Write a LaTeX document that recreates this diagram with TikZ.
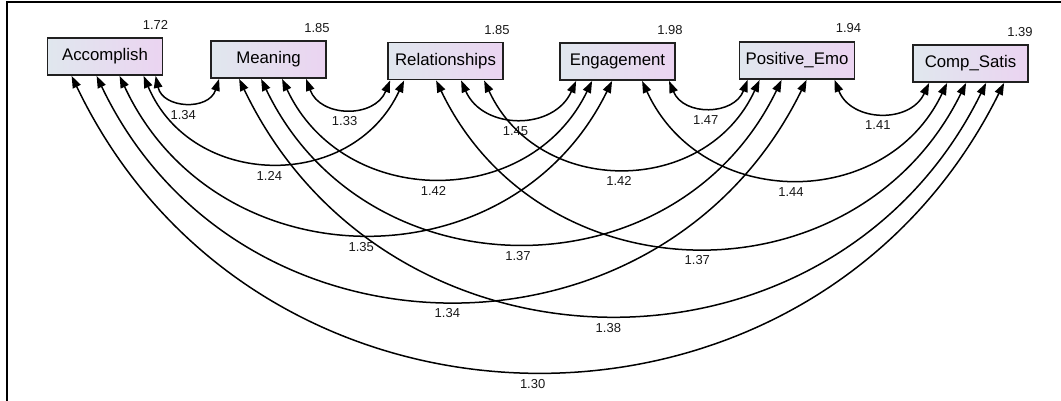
\documentclass[tikz,border=0pt]{standalone}
\usepackage{fontspec}
\setmainfont{Liberation Sans}
\usetikzlibrary{arrows.meta,calc}
\definecolor{boxL}{HTML}{E0E7EE}
\definecolor{boxR}{HTML}{EBD4F1}
\definecolor{boxB}{HTML}{202020}
\tikzset{
  var/.style={rectangle, draw=boxB, line width=1.8pt, left color=boxL, right color=boxR,
    minimum width=115pt, minimum height=37pt, inner sep=0pt,
    font=\fontsize{16.8}{18}\selectfont, text=black},
  vlab/.style={anchor=south east, inner sep=0pt, font=\fontsize{13}{14}\selectfont, text=black!90},
  cov/.style={line width=1.5pt, {Triangle[length=12pt,width=8.5pt]}-{Triangle[length=12pt,width=8.5pt]}},
  clab/.style={font=\fontsize{13}{14}\selectfont, text=black!90, inner sep=0pt, anchor=north,
    yshift=-7.5pt, xshift=-3pt},
}
\begin{document}
\begin{tikzpicture}[x=1pt,y=-1pt]
\useasboundingbox (0,0) rectangle (1061,401);
\draw[line width=2pt] (6.5,401) -- (6.5,2.5) -- (1061,2.5);

\node[var] (acc)  at (105,56.5)   {Accomplish};
\node[var] (mea)  at (268.5,59.5) {Meaning};
\node[var] (rel)  at (445.5,61)   {Relationships};
\node[var] (eng)  at (617.5,61.5) {Engagement};
\node[var] (pos)  at (797,60.5)   {Positive\_Emo};
\node[var] (comp) at (970.5,63.5) {Comp\_Satis};

\node[vlab] (vacc)  at ([xshift=5pt,yshift=7pt]acc.north east)  {1.72};
\node[vlab] (vmea)  at ([xshift=3pt,yshift=7pt]mea.north east)  {1.85};
\node[vlab] (vrel)  at ([xshift=6pt,yshift=7pt]rel.north east)  {1.85};
\node[vlab] (veng)  at ([xshift=7pt,yshift=7pt]eng.north east)  {1.98};
\node[vlab] (vpos)  at ([xshift=6pt,yshift=8pt]pos.north east)  {1.94};
\node[vlab] (vcomp) at ([xshift=4pt,yshift=7pt]comp.north east) {1.39};

% covariances
\draw[cov] ([xshift=109pt]acc.south west) to[bend right=75, looseness=1.353] node[clab]{1.34} ([xshift=9pt]mea.south west);
\draw[cov] ([xshift=97pt]acc.south west) to[bend right=66, looseness=1.21] node[clab]{1.24} ([xshift=17pt]rel.south west);
\draw[cov] ([xshift=73pt]acc.south west) to[bend right=64.5, looseness=1.19] node[clab]{1.35} ([xshift=53pt]eng.south west);
\draw[cov] ([xshift=50pt]acc.south west) to[bend right=64.2, looseness=1.186] node[clab]{1.34} ([xshift=68pt]pos.south west);
\draw[cov] ([xshift=25pt]acc.south west) to[bend right=64, looseness=1.184] node[clab]{1.30} ([xshift=92pt]comp.south west);
\draw[cov] ([xshift=96pt]mea.south west) to[bend right=69, looseness=1.254] node[clab]{1.33} ([xshift=3pt]rel.south west);
\draw[cov] ([xshift=72pt]mea.south west) to[bend right=64.6, looseness=1.191] node[clab]{1.42} ([xshift=33pt]eng.south west);
\draw[cov] ([xshift=51pt]mea.south west) to[bend right=64.3, looseness=1.187] node[clab]{1.37} ([xshift=43pt]pos.south west);
\draw[cov] ([xshift=29pt]mea.south west) to[bend right=64.1, looseness=1.185] node[clab]{1.38} ([xshift=74pt]comp.south west);
\draw[cov] ([xshift=74pt]rel.south west) to[bend right=66.2, looseness=1.213] node[clab]{1.45} ([xshift=17pt]eng.south west);
\draw[cov] ([xshift=97pt]rel.south west) to[bend right=65.2, looseness=1.2] node[clab]{1.42} ([xshift=21pt]pos.south west);
\draw[cov] ([xshift=49pt]rel.south west) to[bend right=64.1, looseness=1.185] node[clab]{1.37} ([xshift=54pt]comp.south west);
\draw[cov] ([xshift=110pt]eng.south west) to[bend right=68.4, looseness=1.245] node[clab]{1.47} ([xshift=9pt]pos.south west);
\draw[cov] ([xshift=83pt]eng.south west) to[bend right=65, looseness=1.197] node[clab]{1.44} ([xshift=35pt]comp.south west);
\draw[cov] ([xshift=96pt]pos.south west) to[bend right=67, looseness=1.224] node[clab]{1.41} ([xshift=17pt]comp.south west);
\end{tikzpicture}
\end{document}
